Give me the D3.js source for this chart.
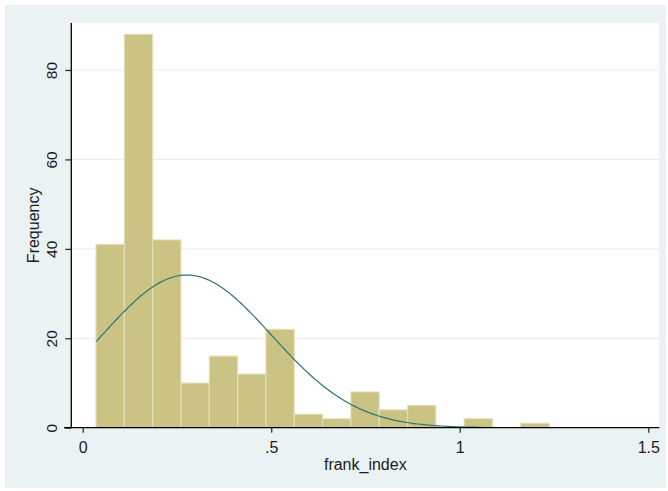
<!DOCTYPE html>
<html>
<head>
<meta charset="utf-8">
<script src="https://cdn.jsdelivr.net/npm/d3@7"></script>
<style>
  html, body { margin: 0; padding: 0; background: #ffffff; }
  svg { display: block; }
  text { font-family: "Liberation Sans", Arial, sans-serif; fill: #1c1c1c; }
</style>
</head>
<body>
<svg id="chart" width="668" height="491"></svg>
<script>
// Histogram of frank_index: bins start at binStart, each binWidth wide
const binStart = 0.0353;
const binWidth = 0.0751;
const frequencies = [41, 88, 42, 10, 16, 12, 22, 3, 2, 8, 4, 5, 0, 2, 0, 1];

// Normal density overlay (scaled to frequency)
const normalMean = 0.276;
const normalSd = 0.2246;
const curveRange = [0.0353, 1.058];

const xTicks = [0, 0.5, 1, 1.5];
const xTickLabels = ["0", ".5", "1", "1.5"];
const yTicks = [0, 20, 40, 60, 80];
const xTitle = "frank_index";
const yTitle = "Frequency";

const svg = d3.select("#chart");

// graph region background
svg.append("rect")
  .attr("x", 5).attr("y", 5).attr("width", 661).attr("height", 483)
  .attr("fill", "#eaf2f3");

const plot = { left: 71.3, right: 659.3, top: 23, bottom: 427.7 };

svg.append("rect")
  .attr("x", plot.left).attr("y", plot.top)
  .attr("width", plot.right - plot.left).attr("height", plot.bottom - plot.top)
  .attr("fill", "#ffffff");

const x = d3.scaleLinear().domain([0, 1.5]).range([82.7, 648.3]);
const y = d3.scaleLinear().domain([0, 80]).range([plot.bottom, 70]);

// horizontal gridlines
svg.append("g")
  .selectAll("line")
  .data(yTicks.filter(d => d > 0))
  .join("line")
  .attr("x1", plot.left).attr("x2", plot.right)
  .attr("y1", d => y(d)).attr("y2", d => y(d))
  .attr("stroke", "#e6eff0").attr("stroke-width", 1.2);

// bars
const bins = frequencies.map((f, i) => ({
  x0: binStart + i * binWidth,
  x1: binStart + (i + 1) * binWidth,
  n: f
})).filter(b => b.n > 0);

svg.append("g")
  .selectAll("rect")
  .data(bins)
  .join("rect")
  .attr("x", d => x(d.x0))
  .attr("width", d => x(d.x1) - x(d.x0))
  .attr("y", d => y(d.n))
  .attr("height", d => y(0) - y(d.n))
  .attr("fill", "#cac384")
  .attr("stroke", "#e4e0b8")
  .attr("stroke-width", 1.1);

// normal curve scaled by N * bin width
const total = d3.sum(frequencies);
const normalY = v => total * binWidth / (normalSd * Math.sqrt(2 * Math.PI)) *
  Math.exp(-((v - normalMean) ** 2) / (2 * normalSd * normalSd));
const curvePts = d3.range(0, 201).map(i => {
  const v = curveRange[0] + (curveRange[1] - curveRange[0]) * i / 200;
  return [v, normalY(v)];
});
svg.append("path")
  .datum(curvePts)
  .attr("fill", "none")
  .attr("stroke", "#2e7470")
  .attr("stroke-width", 1.2)
  .attr("d", d3.line().x(d => x(d[0])).y(d => y(d[1])));

// y axis with rotated tick labels
const yAxis = d3.axisLeft(y).tickValues(yTicks).tickSize(6).tickSizeOuter(0);
const gy = svg.append("g").attr("transform", `translate(${plot.left},0)`).call(yAxis);
gy.select(".domain").remove();
gy.append("line")
  .attr("x1", 0).attr("x2", 0).attr("y1", plot.top).attr("y2", plot.bottom)
  .attr("stroke", "#000").attr("stroke-width", 1.3);
gy.selectAll(".tick line").attr("stroke", "#222").attr("stroke-width", 1.2);
gy.selectAll(".tick text")
  .attr("font-size", 15.5)
  .attr("fill", "#1c1c1c")
  .attr("text-anchor", "middle")
  .attr("x", 0).attr("y", 0).attr("dy", 0)
  .attr("transform", "translate(-14,0) rotate(-90)");

// x axis
const xAxis = d3.axisBottom(x).tickValues(xTicks)
  .tickFormat((d, i) => xTickLabels[i]).tickSize(5).tickSizeOuter(0);
const gx = svg.append("g").attr("transform", `translate(0,${plot.bottom})`).call(xAxis);
gx.select(".domain").remove();
gx.append("line")
  .attr("x1", 64).attr("x2", plot.right).attr("y1", 0).attr("y2", 0)
  .attr("stroke", "#000").attr("stroke-width", 1.3);
gx.selectAll(".tick line").attr("stroke", "#222").attr("stroke-width", 1.2);
gx.selectAll(".tick text")
  .attr("font-size", 16)
  .attr("fill", "#1c1c1c")
  .attr("dy", 0)
  .attr("y", 25);

// axis titles
svg.append("text")
  .attr("x", (plot.left + plot.right) / 2)
  .attr("y", 469.5)
  .attr("text-anchor", "middle")
  .attr("font-size", 16)
  .text(xTitle);

svg.append("text")
  .attr("transform", `translate(38.5,${(plot.top + plot.bottom) / 2}) rotate(-90)`)
  .attr("text-anchor", "middle")
  .attr("font-size", 16)
  .text(yTitle);
</script>
</body>
</html>
